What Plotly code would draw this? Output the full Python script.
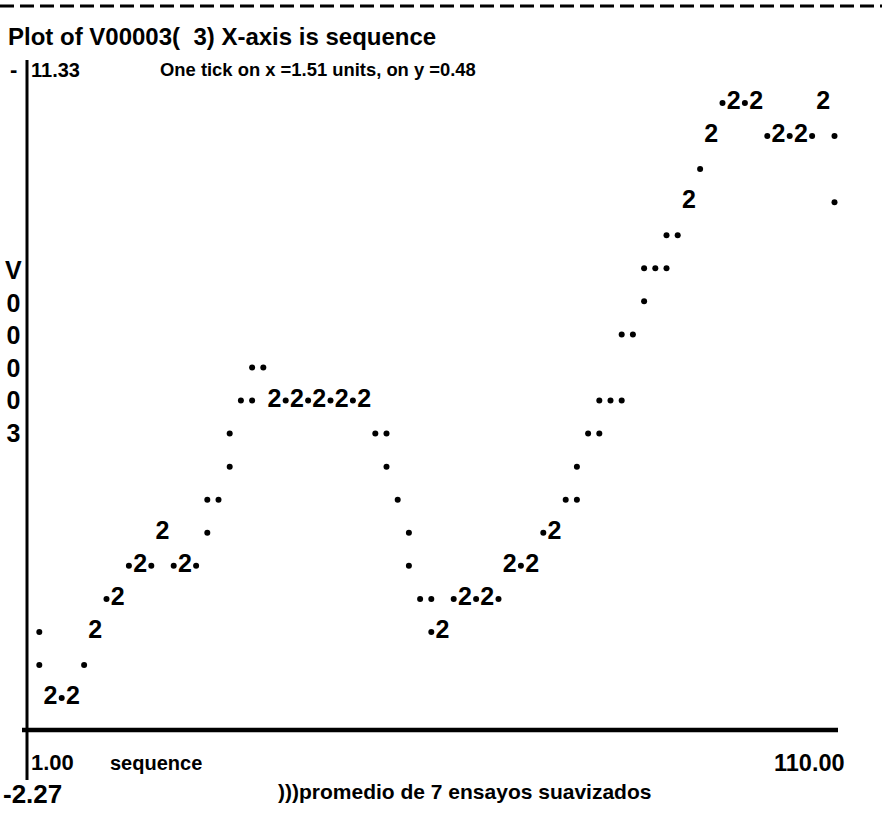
import plotly.graph_objects as go

# ---------------- data ----------------
var_name = "V00003"
sequence = list(range(1, 111))
v00003 = [
    -3.40, -2.95, -2.45, -2.35, -2.27, -2.33, -2.52, -2.98, -3.35, -3.55,
    -3.85, -3.95, -4.05, -4.30, -4.38, -4.48, -4.55, -4.78, -4.80, -4.58,
    -4.45, -4.47, -4.60, -4.95, -5.30, -5.55, -5.90, -6.30, -6.70, -7.00,
    -7.25, -7.30, -7.00, -6.90, -6.85, -6.85, -6.88, -6.90, -6.92, -6.90,
    -6.85, -6.80, -6.78, -6.75, -6.70, -6.62, -6.30, -6.15, -5.80, -5.40,
    -4.95, -4.50, -4.05, -3.80, -3.55, -3.50, -3.55, -3.75, -3.85, -3.90,
    -3.92, -3.95, -3.98, -4.05, -4.25, -4.35, -4.45, -4.55, -4.60, -4.75,
    -4.90, -5.05, -5.30, -5.50, -5.75, -6.20, -6.45, -6.65, -6.85, -7.00,
    -7.70, -7.90, -8.20, -8.50, -8.70, -8.85, -9.05, -9.30, -9.55, -9.75,
    -10.10, -10.50, -10.75, -10.95, -11.10, -11.20, -11.33, -11.25, -11.10, -10.80,
    -10.70, -10.65, -10.62, -10.65, -10.70, -10.80, -10.95, -11.00, -10.60, -9.70,
]
x_min_label = "1.00"
x_max_label = "110.00"
y_top_label = "11.33"
y_bottom_label = "-2.27"
x_axis_name = "sequence"
subtitle = ")))promedio de 7 ensayos suavizados"
tick_text = "One tick on x =1.51 units, on y =0.48"

# ---------------- character-grid binning ----------------
X_FIRST, X_LAST = 1.0, 110.0
Y_TOP, Y_BOTTOM = -11.33, -2.27
N_COLS, N_ROWS = 72, 19
x_step = (X_LAST - X_FIRST) / N_COLS
y_step = (Y_BOTTOM - Y_TOP) / N_ROWS

cells = {}
for x, v in zip(sequence, v00003):
    c = min(int((x - X_FIRST) // x_step), N_COLS - 1)
    r = min(int((v - Y_TOP) // y_step), N_ROWS - 1)
    cells[(c, r)] = cells.get((c, r), 0) + 1

x1, y1, x2, y2 = [], [], [], []
for (c, r), n in sorted(cells.items()):
    cx = X_FIRST + c * x_step
    cy = Y_TOP + (r + 0.5) * y_step
    if n == 1:
        x1.append(cx); y1.append(cy)
    else:
        x2.append(cx); y2.append(cy)

# ---------------- layout geometry (pixels) ----------------
W, H = 882, 828
L, R, T, B = 27, 838, 62, 730
PX_COL0, PX_COLW = 39.3, 11.2
PX_ROW0, PX_ROWH = 103.0, 33.06


def x_at(p):
    return X_FIRST + (p - PX_COL0) / PX_COLW * x_step


def y_at(p):
    return Y_TOP + ((p - PX_ROW0) / PX_ROWH + 0.5) * y_step


def px(xp, yp):
    return (xp - L) / (R - L), 1 - (yp - T) / (B - T)


FONT = "Liberation Sans, Arial, sans-serif"

fig = go.Figure()
fig.add_trace(go.Scatter(
    x=x1, y=y1, mode="markers",
    marker=dict(symbol="circle", size=6, color="black", line=dict(width=0)),
    hoverinfo="skip", showlegend=False,
))
fig.add_trace(go.Scatter(
    x=x2, y=y2, mode="text", text=["2"] * len(x2),
    textposition="middle center",
    textfont=dict(family=FONT, size=25, color="black", weight="bold"),
    hoverinfo="skip", showlegend=False,
))


def ann(text, xp, yp, xanchor, size, yanchor="middle"):
    ax, ay = px(xp, yp)
    return dict(text=text, x=ax, y=ay, xref="paper", yref="paper",
                xanchor=xanchor, yanchor=yanchor, showarrow=False,
                borderpad=0,
                font=dict(family=FONT, size=size, color="black", weight="bold"))


annotations = [
    ann(f"Plot of {var_name}(\u00a0\u00a03) X-axis is sequence", 7, 37, "left", 24),
    ann("-", 9, 70, "left", 22),
    ann(y_top_label, 30, 70, "left", 20),
    ann(tick_text, 159, 70, "left", 18.4),
    ann("<br>".join(var_name), 13, 351, "center", 25),
    ann(x_min_label, 30, 762, "left", 22),
    ann(x_axis_name, 109, 763, "left", 20),
    ann(x_max_label, 846, 763, "right", 23.5),
    ann(y_bottom_label, 2, 794, "left", 26),
    ann(subtitle, 277, 791, "left", 21),
]

ax0, ay0 = px(27, 60)
ax1, ay1 = px(27, 780)
hx0, hy = px(22, 730)
hx1, _ = px(838, 730)
tx0, ty = px(0, 6)
tx1, _ = px(882, 6)

shapes = [
    dict(type="line", xref="paper", yref="paper", x0=ax0, x1=ax1, y0=ay0, y1=ay1,
         line=dict(color="black", width=3), layer="above"),
    dict(type="line", xref="paper", yref="paper", x0=hx0, x1=hx1, y0=hy, y1=hy,
         line=dict(color="black", width=4.5), layer="above"),
    dict(type="line", xref="paper", yref="paper", x0=tx0, x1=tx1, y0=ty, y1=ty,
         line=dict(color="black", width=3, dash="14px,6px"), layer="above"),
]

fig.update_layout(
    width=W, height=H, autosize=False,
    margin=dict(l=L, r=W - R, t=T, b=H - B, pad=0),
    paper_bgcolor="white", plot_bgcolor="white",
    showlegend=False,
    xaxis=dict(range=[x_at(L), x_at(R)], visible=False, fixedrange=True),
    yaxis=dict(range=[y_at(B), y_at(T)], visible=False, fixedrange=True),
    annotations=annotations,
    shapes=shapes,
)

fig.write_html(
    "out.html",
    config={"displayModeBar": False, "staticPlot": True},
    post_script="document.body.style.margin='0';document.body.style.overflow='hidden';",
)
